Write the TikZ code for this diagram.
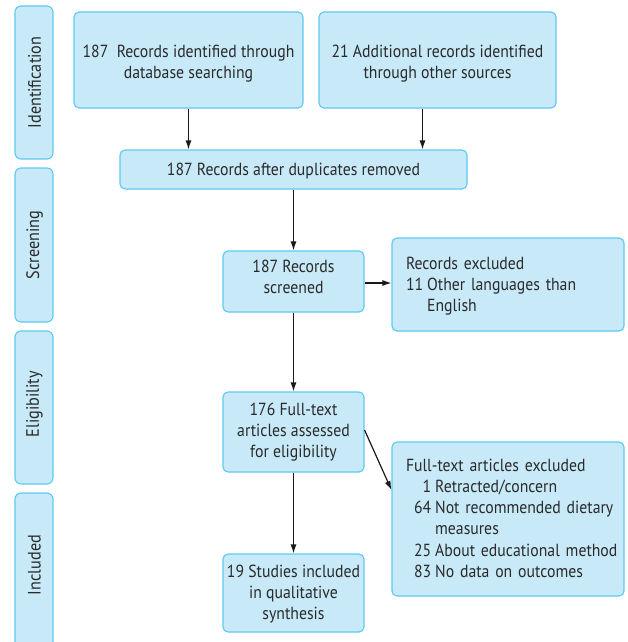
\documentclass[tikz,border=0pt]{standalone}
\usepackage{fontspec}
\setmainfont{PT Sans}[FakeStretch=0.9]
\usetikzlibrary{arrows.meta}
\definecolor{fillc}{HTML}{C7E9F8}
\definecolor{bord}{HTML}{5CC9F2}
\definecolor{txt}{HTML}{2A2A2A}
\newcommand{\mainsz}{\fontsize{17.5}{21.2}\selectfont}
\newcommand{\phsz}{\fontsize{18}{19}\selectfont}
\newcommand{\mvtxt}[2]{\raisebox{#1}[\height][\depth]{#2}}
\tikzset{
  box/.style={draw=bord, fill=fillc, rounded corners=5pt, line width=1.1pt, inner sep=0pt, align=center, font=\mainsz, text=txt},
  lbox/.style={box, align=left, inner xsep=14pt, inner ysep=0pt},
  phase/.style={draw=bord, fill=fillc, rounded corners=6pt, line width=1.1pt, minimum width=38pt},
  phlabel/.style={rotate=90, font=\phsz, text=txt, inner sep=0pt},
  arr/.style={line width=1.2pt, draw=black!90, -{Latex[length=9pt,width=6pt]}}
}
\begin{document}
\begin{tikzpicture}[x=1pt,y=-1pt]
\useasboundingbox (0,0) rectangle (627,642);
% phases
\node[phase, minimum height=153pt] (pid) at (34,82.5) {};
\node[phlabel] (lid) at (34.5,82.5) {Identification};
\node[phase, minimum height=154pt] (psc) at (34,245) {};
\node[phlabel] (lsc) at (34.5,245) {Screening};
\node[phase, minimum height=153pt] (pel) at (34,407.5) {};
\node[phlabel] (lel) at (34.5,404) {Eligibility};
\node[phase, minimum height=162pt] (pin) at (34,574) {};
\node[phlabel] (lin) at (34.5,565) {Included};
% boxes
\node[box, minimum width=229pt, minimum height=96pt] (b1) at (188.5,60) {\mvtxt{-4pt}{\begin{tabular}{@{}c@{}}187\ \ Records identified through\\database searching\end{tabular}}};
\node[box, minimum width=237pt, minimum height=96pt] (b2) at (437.5,60) {\mvtxt{-4pt}{\begin{tabular}{@{}c@{}}21 Additional records identified\\through other sources\end{tabular}}};
\node[box, minimum width=347pt, minimum height=39pt] (b3) at (293.5,169.5) {\mvtxt{-2pt}{187 Records after duplicates removed}};
\node[box, minimum width=141pt, minimum height=61pt] (b4) at (293.5,281.5) {\mvtxt{2.5pt}{\begin{tabular}{@{}c@{}}187 Records\\screened\end{tabular}}};
\node[lbox, text width=204pt, minimum height=93pt] (b5) at (508,284.5) {%
\mvtxt{-2pt}{\begin{tabular}{@{}r@{\hspace{4pt}}l@{}}
\multicolumn{2}{@{}l@{}}{Records excluded}\\
11 & Other languages than\\
 & English
\end{tabular}}};
\node[box, minimum width=141pt, minimum height=80pt] (b6) at (293.5,432) {176 Full-text\\articles assessed\\for eligibility};
\node[lbox, text width=204pt, minimum height=154pt] (b7) at (508,519) {%
\mvtxt{-1pt}{\begin{tabular}{@{\hspace{8pt}}r@{\hspace{4pt}}l@{}}
\multicolumn{2}{@{}l@{}}{Full-text articles excluded}\\
1 & Retracted/concern\\
64 & Not recommended dietary\\
 & measures\\
25 & About educational method\\
83 & No data on outcomes
\end{tabular}}};
\node[box, minimum width=141pt, minimum height=78pt] (b8) at (293.5,593) {\mvtxt{-1.5pt}{\begin{tabular}{@{}c@{}}19 Studies included\\in qualitative\\synthesis\end{tabular}}};
% arrows
\draw[arr] (b1.south) -- (b1.south |- b3.north);
\draw[arr] ([xshift=-15pt]b2.south) -- ([xshift=-15pt]b2.south |- b3.north);
\draw[arr] (b3.south) -- (b4.north);
\draw[arr] ([yshift=-1.5pt]b4.east) -- ([yshift=-1.5pt]b4.east -| b5.west);
\draw[arr] (b4.south) -- (b6.north);
\draw[arr] ([yshift=2pt]b6.east) -- ([yshift=29pt]b7.west);
\draw[arr] (b6.south) -- (b8.north);
\end{tikzpicture}
\end{document}
